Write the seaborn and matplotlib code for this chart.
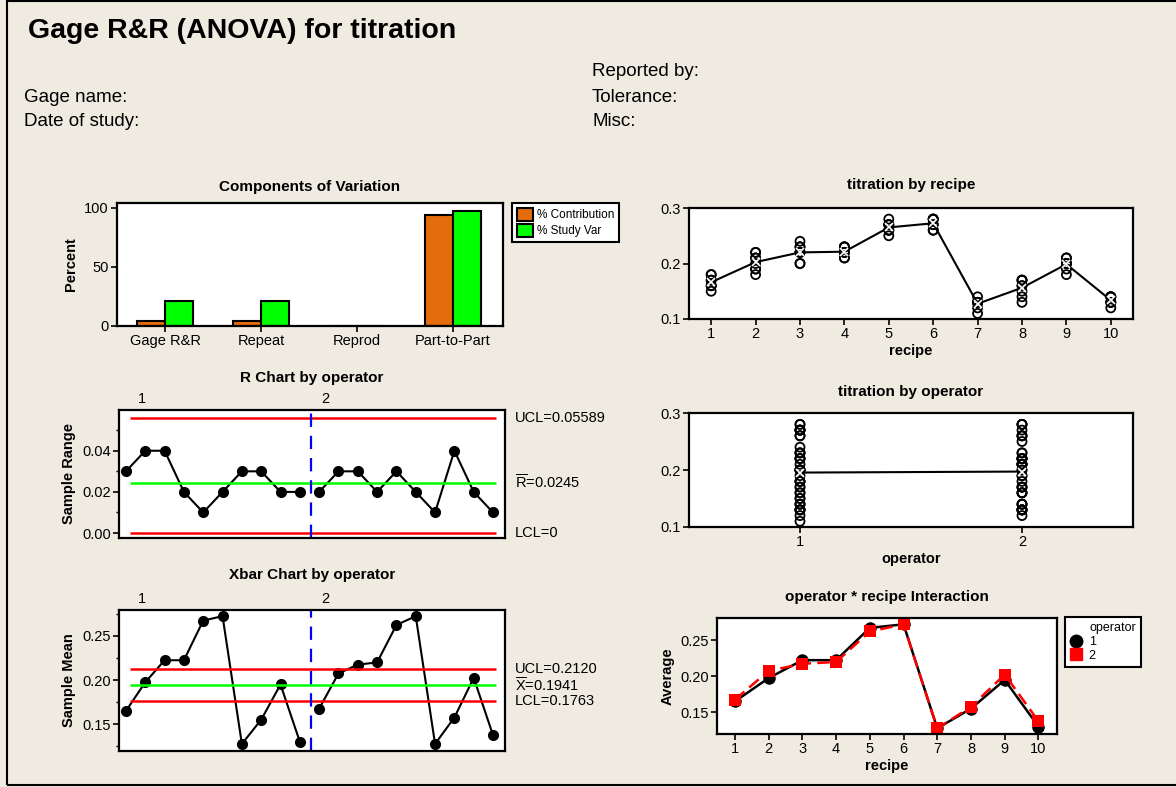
import numpy as np
import matplotlib.pyplot as plt
import pandas as pd
import seaborn as sns
from matplotlib.lines import Line2D
from matplotlib.patches import Patch, Rectangle
from matplotlib.transforms import blended_transform_factory

# ---- data ------------------------------------------------------------------
recipes = list(range(1, 11))
operators = [1, 2]

# four replicate titration readings per recipe
titration_op1 = [
    [0.15, 0.16, 0.17, 0.18],
    [0.18, 0.19, 0.20, 0.22],
    [0.20, 0.22, 0.23, 0.24],
    [0.21, 0.22, 0.23, 0.23],
    [0.26, 0.27, 0.27, 0.27],
    [0.26, 0.28, 0.28, 0.27],
    [0.11, 0.13, 0.14, 0.13],
    [0.14, 0.16, 0.17, 0.15],
    [0.18, 0.20, 0.20, 0.20],
    [0.12, 0.13, 0.14, 0.13],
]
titration_op2 = [
    [0.16, 0.17, 0.16, 0.18],
    [0.19, 0.21, 0.22, 0.21],
    [0.20, 0.22, 0.23, 0.22],
    [0.21, 0.22, 0.23, 0.22],
    [0.25, 0.26, 0.28, 0.26],
    [0.26, 0.28, 0.28, 0.27],
    [0.12, 0.13, 0.13, 0.13],
    [0.13, 0.17, 0.16, 0.17],
    [0.19, 0.21, 0.21, 0.20],
    [0.13, 0.14, 0.14, 0.14],
]

components = ['Gage R&R', 'Repeat', 'Reprod', 'Part-to-Part']
pct_contribution = [4.5, 4.5, 0.0, 93.5]
pct_study_var = [21.0, 21.0, 0.0, 97.0]

r_ucl, r_bar, r_lcl = 0.05589, 0.0245, 0.0
x_ucl, x_bar, x_lcl = 0.2120, 0.1941, 0.1763

BG = '#EFEBE1'
ORANGE = '#E46C0A'
GREEN = '#00FF00'
W, H = 1176, 787

sns.set_theme(style='white')
plt.rcParams['font.family'] = ['Liberation Sans', 'DejaVu Sans']
plt.rcParams['mathtext.default'] = 'regular'
for key in ['text.color', 'axes.labelcolor', 'xtick.color', 'ytick.color']:
    plt.rcParams[key] = 'black'

rows = []
for op, table in zip(operators, [titration_op1, titration_op2]):
    for rec, vals in zip(recipes, table):
        for v in vals:
            rows.append({'operator': op, 'recipe': rec, 'titration': v})
df = pd.DataFrame(rows)

sub = df.groupby(['operator', 'recipe'])['titration'].agg(['mean', 'max', 'min']).reset_index()
sub['range'] = (sub['max'] - sub['min']).round(4)
sub['subgroup'] = (sub['operator'] - 1) * 10 + sub['recipe']


def add_box(fig, left, top, right, bottom):
    ax = fig.add_axes([left / W, 1 - bottom / H, (right - left) / W, (bottom - top) / H])
    ax.set_facecolor('white')
    for s in ax.spines.values():
        s.set_linewidth(1.6)
        s.set_color('black')
    ax.tick_params(direction='out', length=4, width=1.2, labelsize=10.5,
                   colors='black', left=True, bottom=True, pad=2)
    return ax


def bold_title(ax, text, pad=6):
    ax.set_title(text, fontsize=11, fontweight='bold', pad=pad)


fig = plt.figure(figsize=(W / 100, H / 100), dpi=100, facecolor=BG)
fig.patches.append(Rectangle((7 / W, 2 / H), 1.2, (786 - 2) / H, transform=fig.transFigure,
                             fill=False, edgecolor='black', lw=1.5))

fig.text(28 / W, 1 - 31 / H, 'Gage R&R (ANOVA) for titration', fontsize=20.5,
         fontweight='bold', va='center', ha='left')
for txt, y in [('Gage name:', 97), ('Date of study:', 122)]:
    fig.text(24 / W, 1 - y / H, txt, fontsize=13.5, va='center')
for txt, y in [('Reported by:', 72), ('Tolerance:', 97), ('Misc:', 122)]:
    fig.text(592 / W, 1 - y / H, txt, fontsize=13.5, va='center')

# ---- Components of Variation ----------------------------------------------
ax = add_box(fig, 117, 203, 503, 326)
comp = pd.DataFrame({
    'component': components * 2,
    'measure': ['% Contribution'] * 4 + ['% Study Var'] * 4,
    'percent': pct_contribution + pct_study_var,
})
sns.barplot(comp, x='component', y='percent', hue='measure',
            palette={'% Contribution': ORANGE, '% Study Var': GREEN}, saturation=1,
            edgecolor='black', linewidth=1.5, width=0.59, legend=False, ax=ax)
ax.set_xlim(-0.5, 3.52)
ax.set_ylim(0, 104)
ax.set_yticks([0, 50, 100])
ax.set_xlabel('')
ax.set_ylabel('Percent', fontsize=10.5, fontweight='bold')
bold_title(ax, 'Components of Variation', pad=9)
fig.legend(handles=[Patch(facecolor=ORANGE, edgecolor='black', lw=1.5, label='% Contribution'),
                    Patch(facecolor=GREEN, edgecolor='black', lw=1.5, label='% Study Var')],
           loc='upper left', bbox_to_anchor=(512 / W, 1 - 203 / H), fontsize=8.5,
           frameon=True, fancybox=False, edgecolor='black', framealpha=1,
           handlelength=1.4, handleheight=1.3, handletextpad=0.3, borderpad=0.4,
           labelspacing=0.25, borderaxespad=0).get_frame().set_linewidth(1.5)


# ---- control charts ---------------------------------------------------------
def control_chart(ax, col, ucl, cl, lcl, labels):
    sns.lineplot(sub, x='subgroup', y=col, hue='operator', palette={1: 'black', 2: 'black'},
                 marker='o', markersize=8, markeredgewidth=0, lw=1.5, legend=False, ax=ax)
    ax.hlines([ucl, lcl], 1.2, 20.17, color='red', lw=1.8)
    ax.hlines(cl, 1.2, 20.17, color=GREEN, lw=1.8)
    ax.axvline(10.6, color='blue', lw=1.6, ls=(0, (6, 4)))
    ax.set_xlim(0.64, 20.62)
    ax.set_xticks([])
    ax.set_xlabel('')
    trans = blended_transform_factory(ax.transAxes, ax.transData)
    for y, txt in zip([ucl, cl, lcl], labels):
        ax.text(1.026, y, txt, transform=trans, va='center', ha='left', fontsize=10.5)
    tr = ax.get_xaxis_transform()
    ax.text(1.81, 1.03, '1', transform=tr, ha='center', va='bottom', fontsize=10.5)
    ax.text(11.3, 1.03, '2', transform=tr, ha='center', va='bottom', fontsize=10.5)
    ax.tick_params(axis='y', which='minor', length=2.5, width=1.0, left=True)


ax = add_box(fig, 119, 410, 505, 538)
control_chart(ax, 'range', r_ucl, r_bar, r_lcl,
              ['UCL=0.05589', r'$\overline{R}$=0.0245', 'LCL=0'])
ax.set_ylim(-0.0024, 0.0598)
ax.set_yticks([0.0, 0.02, 0.04])
ax.set_yticks([0.01, 0.03, 0.05], minor=True)
ax.set_yticklabels(['0.00', '0.02', '0.04'])
ax.set_ylabel('Sample Range', fontsize=10.5, fontweight='bold')
bold_title(ax, 'R Chart by operator', pad=20)

ax = add_box(fig, 119, 610, 505, 751)
control_chart(ax, 'mean', x_ucl, x_bar, x_lcl,
              ['UCL=0.2120', r'$\overline{X}$=0.1941', 'LCL=0.1763'])
ax.set_ylim(0.1195, 0.2795)
ax.set_yticks([0.15, 0.20, 0.25])
ax.set_yticks([0.125, 0.175, 0.225, 0.275], minor=True)
ax.set_yticklabels(['0.15', '0.20', '0.25'])
ax.set_ylabel('Sample Mean', fontsize=10.5, fontweight='bold')
bold_title(ax, 'Xbar Chart by operator', pad=22)

# ---- titration by recipe ---------------------------------------------------
ax = add_box(fig, 689, 208, 1133, 319)
sns.scatterplot(df, x='recipe', y='titration', marker='o', s=42, facecolor='none',
                edgecolor='black', linewidth=1.3, ax=ax)
sns.lineplot(df, x='recipe', y='titration', estimator='mean', errorbar=None, color='black',
             marker='x', markersize=6, markeredgewidth=1.2, lw=1.5, ax=ax)
ax.set_xlim(0.5, 10.5)
ax.set_ylim(0.1, 0.3)
ax.set_xticks(recipes)
ax.set_yticks([0.1, 0.2, 0.3])
ax.set_yticklabels(['0.1', '0.2', '0.3'])
ax.set_xlabel('recipe', fontsize=10.5, fontweight='bold', labelpad=2)
ax.set_ylabel('')
bold_title(ax, 'titration by recipe', pad=14)

# ---- titration by operator -------------------------------------------------
ax = add_box(fig, 689, 413, 1133, 527)
sns.scatterplot(df, x='operator', y='titration', marker='o', s=42, facecolor='none',
                edgecolor='black', linewidth=1.3, ax=ax)
sns.lineplot(df, x='operator', y='titration', estimator='mean', errorbar=None, color='black',
             marker='x', markersize=6, markeredgewidth=1.2, lw=1.5, ax=ax)
ax.set_xlim(0.5, 2.5)
ax.set_ylim(0.1, 0.3)
ax.set_xticks(operators)
ax.set_yticks([0.1, 0.2, 0.3])
ax.set_yticklabels(['0.1', '0.2', '0.3'])
ax.set_xlabel('operator', fontsize=10.5, fontweight='bold', labelpad=2)
ax.set_ylabel('')
bold_title(ax, 'titration by operator', pad=12)

# ---- interaction -------------------------------------------------------------
ax = add_box(fig, 717, 618, 1057, 734)
sns.lineplot(df, x='recipe', y='titration', hue='operator', style='operator',
             palette={1: 'black', 2: 'red'}, markers={1: 'o', 2: 's'},
             dashes={1: '', 2: (5, 2.5)}, markersize=9, markeredgewidth=0, lw=1.8,
             errorbar=None, legend=False, ax=ax)
ax.set_xlim(0.47, 10.55)
ax.set_ylim(0.1196, 0.2813)
ax.set_xticks(recipes)
ax.set_yticks([0.15, 0.20, 0.25])
ax.set_yticklabels(['0.15', '0.20', '0.25'])
ax.set_xlabel('recipe', fontsize=10.5, fontweight='bold', labelpad=2)
ax.set_ylabel('Average', fontsize=10.5, fontweight='bold')
bold_title(ax, 'operator * recipe Interaction', pad=12)
leg = fig.legend(handles=[Line2D([], [], marker='o', color='black', ls='none', markersize=9),
                          Line2D([], [], marker='s', color='red', ls='none', markersize=9)],
                 labels=['1', '2'], title='operator', loc='upper left',
                 bbox_to_anchor=(1065 / W, 1 - 669 / H, 76 / W, 52 / H), mode='expand',
                 fontsize=9, title_fontsize=9,
                 frameon=True, fancybox=False, edgecolor='black', framealpha=1,
                 handlelength=1.0, handletextpad=0.5, borderpad=0.4, labelspacing=0.15,
                 borderaxespad=0, alignment='right')
leg.get_frame().set_linewidth(1.5)

fig.savefig('out.png', dpi=100, facecolor=BG)
